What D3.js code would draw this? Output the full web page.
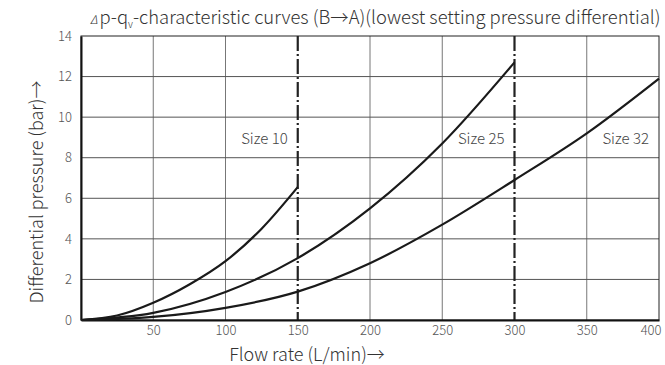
<!DOCTYPE html>
<html>
<head>
<meta charset="utf-8">
<script src="https://cdn.jsdelivr.net/npm/d3@7"></script>
<style>
  body { margin: 0; background: #fff; }
  text { font-family: "Noto Sans CJK SC", "Noto Sans", sans-serif; font-weight: 300; }
</style>
</head>
<body>
<main></main>
<script>
// data
const flow10 = [0, 25, 50, 75, 100, 125, 150];
const dp10 = [0, 0.22, 0.85, 1.75, 2.9, 4.5, 6.55];

const flow25 = [0, 50, 100, 150, 200, 250, 300];
const dp25 = [0, 0.35, 1.38, 3.05, 5.5, 8.7, 12.7];

const flow32 = [0, 50, 100, 150, 200, 250, 300, 350, 400];
const dp32 = [0, 0.15, 0.6, 1.4, 2.8, 4.7, 6.9, 9.2, 11.9];

const xTicks = [50, 100, 150, 200, 250, 300, 350, 400];
const yTicks = [0, 2, 4, 6, 8, 10, 12, 14];
const sizeLines = [150, 300];
const sizeLabels = ["Size 10", "Size 25", "Size 32"];
const labelAt = [150, 300, 400];

const svgSize = { width: 665, height: 365 };

const svg = d3.select("main")
  .append("svg")
  .attr("width", svgSize.width)
  .attr("height", svgSize.height);

const xScale = d3.scaleLinear().domain([0, 400]).range([81, 659]);
const yScale = d3.scaleLinear().domain([0, 14]).range([320, 36]);

// grid
svg.append("g")
  .selectAll("line")
  .data(xTicks.filter(d => d < 400 && !sizeLines.includes(d)))
  .enter()
  .append("line")
  .attr("x1", d => xScale(d)).attr("x2", d => xScale(d))
  .attr("y1", yScale(0)).attr("y2", yScale(14))
  .attr("stroke", "#777").attr("stroke-width", 1);

svg.append("g")
  .selectAll("line")
  .data(yTicks.filter(d => d > 0 && d < 14))
  .enter()
  .append("line")
  .attr("x1", xScale(0)).attr("x2", xScale(400))
  .attr("y1", d => yScale(d)).attr("y2", d => yScale(d))
  .attr("stroke", "#555").attr("stroke-width", 1);

// frame: top + right thin
svg.append("rect")
  .attr("x", xScale(0)).attr("y", yScale(14))
  .attr("width", xScale(400) - xScale(0))
  .attr("height", yScale(0) - yScale(14))
  .attr("fill", "none").attr("stroke", "#222").attr("stroke-width", 1);

// dash-dot size limits
svg.append("g")
  .selectAll("line")
  .data(sizeLines)
  .enter()
  .append("line")
  .attr("x1", d => xScale(d)).attr("x2", d => xScale(d))
  .attr("y1", yScale(14)).attr("y2", yScale(0))
  .attr("stroke", "#222").attr("stroke-width", 2.2)
  .attr("stroke-dasharray", "15,3,2,3");

// axes (labels only, no tick marks)
const xAxis = svg.append("g")
  .attr("transform", `translate(0, ${yScale(0)})`)
  .call(d3.axisBottom(xScale).tickValues(xTicks).tickSize(0).tickPadding(6));
const yAxis = svg.append("g")
  .attr("transform", `translate(${xScale(0)}, 0)`)
  .call(d3.axisLeft(yScale).tickValues(yTicks).tickSize(0).tickPadding(9));
[xAxis, yAxis].forEach(a => {
  a.select(".domain").attr("stroke", "#111").attr("stroke-width", 2);
  a.selectAll("text").attr("fill", "#555").style("font-size", "13px")
    .style("font-family", '"Noto Sans CJK SC", "Noto Sans", sans-serif').style("font-weight", 300);
});
// last x label sits flush with the right border
xAxis.selectAll(".tick text").filter(d => d === 400).attr("text-anchor", "end").attr("dx", 2);

// curves
const line = d3.line()
  .x(d => xScale(d[0]))
  .y(d => yScale(d[1]))
  .curve(d3.curveMonotoneX);

const series = [
  d3.zip(flow10, dp10),
  d3.zip(flow25, dp25),
  d3.zip(flow32, dp32),
];

svg.append("g")
  .selectAll("path")
  .data(series)
  .enter()
  .append("path")
  .attr("d", line)
  .attr("fill", "none")
  .attr("stroke", "#1a1a1a")
  .attr("stroke-width", 2.2);

// size labels
svg.append("g")
  .selectAll("text")
  .data(sizeLabels)
  .enter()
  .append("text")
  .attr("x", (d, i) => xScale(labelAt[i]) - 10)
  .attr("y", yScale(8.7))
  .attr("text-anchor", "end")
  .attr("fill", "#444")
  .style("font-size", "15px")
  .text(d => d);

// title
const title = svg.append("text")
  .attr("x", 90).attr("y", 24)
  .attr("fill", "#333")
  .style("font-size", "18.4px");
title.append("tspan").style("font-style", "italic").style("font-size", "12px").text("Δ");
title.append("tspan").attr("dx", 2).text("p-q");
title.append("tspan").attr("dy", 4).style("font-size", "10px").text("v");
title.append("tspan").attr("dy", -4).text("-characteristic curves (B→A)(lowest setting pressure differential)");

// axis titles
svg.append("text")
  .attr("x", 307).attr("y", 361)
  .attr("text-anchor", "middle")
  .attr("fill", "#333")
  .style("font-size", "18px")
  .text("Flow rate (L/min)→");

svg.append("text")
  .attr("transform", `translate(43, 192) rotate(-90)`)
  .attr("text-anchor", "middle")
  .attr("fill", "#333")
  .style("font-size", "18px")
  .text("Differential pressure (bar)→");
</script>
</body>
</html>
